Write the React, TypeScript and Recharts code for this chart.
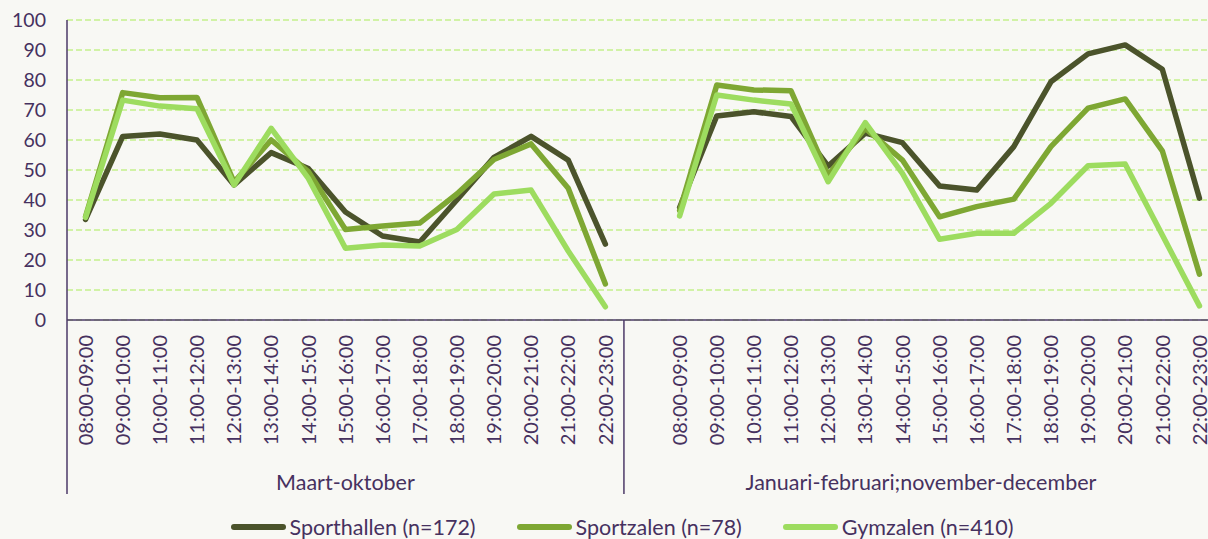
import React from "react";
import { LineChart, Line, XAxis, YAxis, CartesianGrid, Legend } from "recharts";

const hours = [
  "08:00-09:00", "09:00-10:00", "10:00-11:00", "11:00-12:00", "12:00-13:00",
  "13:00-14:00", "14:00-15:00", "15:00-16:00", "16:00-17:00", "17:00-18:00",
  "18:00-19:00", "19:00-20:00", "20:00-21:00", "21:00-22:00", "22:00-23:00",
];
const periods = ["Maart-oktober", "Januari-februari;november-december"];
const seriesNames = ["Sporthallen (n=172)", "Sportzalen (n=78)", "Gymzalen (n=410)"];

const sporthallenMO = [33.5, 61.2, 62, 60, 45, 55.8, 50.5, 36, 28, 26, 40, 54.2, 61.2, 53.3, 25.3];
const sportzalenMO = [34.5, 75.8, 74.1, 74.2, 46, 60, 49.5, 30.2, 31.3, 32.3, 42, 53.5, 58.7, 43.9, 12];
const gymzalenMO = [34.2, 73.3, 71.3, 70.4, 45, 63.9, 47.2, 23.9, 25, 24.7, 30.2, 42, 43.3, 23, 4.4];

const sporthallenJF = [37.5, 68, 69.4, 67.8, 51.3, 62.3, 59.1, 44.7, 43.3, 57.8, 79.4, 88.7, 91.7, 83.6, 40.6];
const sportzalenJF = [36.5, 78.3, 76.7, 76.4, 48.3, 63.9, 53.3, 34.4, 37.8, 40.3, 57.8, 70.6, 73.7, 56.4, 15.3];
const gymzalenJF = [34.7, 75, 73.3, 72, 46.1, 65.8, 48.9, 26.9, 28.9, 28.9, 38.9, 51.4, 52, 28.3, 4.7];

const yTicks = [0, 10, 20, 30, 40, 50, 60, 70, 80, 90, 100];

const COLORS = ["#4b532b", "#7ea733", "#9ddc5f"];
const TEXT = "#46315f";
const AXIS = "#4d3a68";
const GRID = "#c4ef8c";
const BG = "#f8f8f4";
const FONT = "Lato, 'Open Sans', sans-serif";

const CHART_W = 1220;
const CHART_H = 539;
const Y_W = 67;
const M_RIGHT = 2;
const TICK_MARGIN = 15;

type Row = {
  key: string;
  hour: string;
  period: string;
  groupStart: boolean;
  span: number;
  a?: number;
  b?: number;
  c?: number;
};

const data: Row[] = [];
hours.forEach((h, i) =>
  data.push({
    key: `mo-${i}`, hour: h, period: periods[0], groupStart: i === 0, span: hours.length,
    a: sporthallenMO[i], b: sportzalenMO[i], c: gymzalenMO[i],
  })
);
data.push({ key: "gap", hour: "", period: periods[1], groupStart: true, span: hours.length + 1 });
hours.forEach((h, i) =>
  data.push({
    key: `jf-${i}`, hour: h, period: periods[1], groupStart: false, span: 0,
    a: sporthallenJF[i], b: sportzalenJF[i], c: gymzalenJF[i],
  })
);

const BAND = (CHART_W - Y_W - M_RIGHT) / data.length;

function CategoryTick(props: any) {
  const { x, y, payload } = props;
  const i: number = props.index ?? payload.index;
  const row = data[i];
  if (!row) return null;
  const band = payload && payload.offset ? payload.offset * 2 : BAND;
  const top = y - TICK_MARGIN;
  return (
    <g>
      {row.hour ? (
        <text
          transform={`translate(${x},${y}) rotate(-90)`}
          textAnchor="end"
          dy="0.36em"
          fill={TEXT}
          fontSize={20}
          fontFamily={FONT}
        >
          {row.hour}
        </text>
      ) : null}
      {row.groupStart ? (
        <>
          <line x1={x - band / 2} x2={x - band / 2} y1={top} y2={top + 174} stroke={AXIS} strokeWidth={1.5} />
          <text
            x={x - band / 2 + (row.span * band) / 2}
            y={top + 162}
            textAnchor="middle"
            dominantBaseline="central"
            fill={TEXT}
            fontSize={21.5}
            fontFamily={FONT}
          >
            {row.period}
          </text>
        </>
      ) : null}
      {i === data.length - 1 ? (
        <line x1={x + band / 2} x2={x + band / 2} y1={top} y2={top + 174} stroke={AXIS} strokeWidth={1.5} />
      ) : null}
    </g>
  );
}

function LegendContent() {
  return (
    <div
      style={{
        display: "flex",
        justifyContent: "center",
        alignItems: "center",
        height: 24,
        paddingLeft: 26,
        fontFamily: FONT,
        fontSize: 21.5,
        color: TEXT,
        whiteSpace: "nowrap",
      }}
    >
      {seriesNames.map((name, i) => (
        <div key={name} style={{ display: "flex", alignItems: "center", marginLeft: i === 0 ? 0 : 41 }}>
          <div style={{ width: 55, height: 6, borderRadius: 3, background: COLORS[i], marginRight: 4 }} />
          <span>{name}</span>
        </div>
      ))}
    </div>
  );
}

export default function App() {
  return (
    <div
      style={{
        position: "absolute",
        left: 0,
        top: 0,
        width: 1208,
        height: 539,
        overflow: "hidden",
        background: BG,
      }}
    >
      <LineChart
        width={CHART_W}
        height={CHART_H}
        data={data}
        margin={{ top: 20, right: M_RIGHT, left: 0, bottom: 0 }}
      >
        <CartesianGrid horizontal vertical={false} stroke={GRID} strokeWidth={1.5} strokeDasharray="6 3" />
        <XAxis
          dataKey="key"
          scale="band"
          interval={0}
          height={195}
          tickLine={false}
          tickSize={0}
          tickMargin={TICK_MARGIN}
          axisLine={{ stroke: AXIS, strokeWidth: 1.5 }}
          tick={<CategoryTick />}
        />
        <YAxis
          width={Y_W}
          domain={[0, 100]}
          ticks={yTicks}
          interval={0}
          tickLine={false}
          tickSize={0}
          tickMargin={21}
          axisLine={{ stroke: AXIS, strokeWidth: 1.5 }}
          tick={{ fill: TEXT, fontSize: 19.5, fontFamily: FONT }}
        />
        <Legend verticalAlign="bottom" height={24} content={<LegendContent />} />
        <Line type="linear" dataKey="a" name={seriesNames[0]} stroke={COLORS[0]} strokeWidth={5.5} dot={false} isAnimationActive={false} strokeLinejoin="round" strokeLinecap="round" />
        <Line type="linear" dataKey="b" name={seriesNames[1]} stroke={COLORS[1]} strokeWidth={5.5} dot={false} isAnimationActive={false} strokeLinejoin="round" strokeLinecap="round" />
        <Line type="linear" dataKey="c" name={seriesNames[2]} stroke={COLORS[2]} strokeWidth={5.5} dot={false} isAnimationActive={false} strokeLinejoin="round" strokeLinecap="round" />
      </LineChart>
    </div>
  );
}
